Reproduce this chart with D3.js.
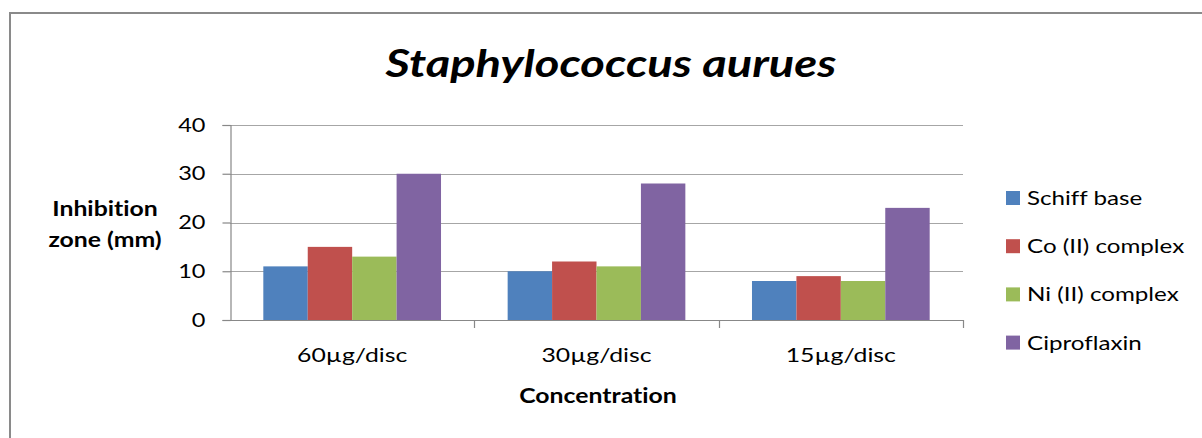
<!DOCTYPE html>
<html>
<head>
<meta charset="utf-8">
<script src="https://cdn.jsdelivr.net/npm/d3@7"></script>
<style>
  html, body { margin: 0; padding: 0; background: #fff; }
  svg { display: block; }
  text { font-family: Lato, "Open Sans", sans-serif; fill: #000; font-variant-ligatures: none; font-feature-settings: "liga" 0, "clig" 0; }
</style>
</head>
<body>
<svg id="chart" width="1202" height="438"></svg>
<script>
const categories = ["60µg/disc", "30µg/disc", "15µg/disc"];
const seriesNames = ["Schiff base", "Co (II) complex", "Ni (II) complex", "Ciproflaxin"];
const seriesColors = ["#4F81BD", "#C0504D", "#9BBB59", "#8064A2"];
const schiffBase = [11, 10, 8];
const coComplex = [15, 12, 9];
const niComplex = [13, 11, 8];
const ciproflaxin = [30, 28, 23];
const yTicks = [0, 10, 20, 30, 40];
const titleText = "Staphylococcus aurues";
const yTitleLines = ["Inhibition", "zone (mm)"];
const xTitleText = "Concentration";

const seriesValues = [schiffBase, coComplex, niComplex, ciproflaxin];
const SX = 1.24; // horizontal stretch of the text in the reference

const svg = d3.select("#chart");

// outer frame (only top and left edges visible)
svg.append("rect")
  .attr("x", 10).attr("y", 13)
  .attr("width", 1202).attr("height", 438)
  .attr("fill", "none")
  .attr("stroke", "#8a8a8a")
  .attr("stroke-width", 2);

const plotLeft = 230, plotRight = 963, plotTop = 125, plotBottom = 320;

const x0 = d3.scaleBand().domain(categories).range([plotLeft, plotRight]).padding(0);
const x1 = d3.scaleBand().domain(d3.range(seriesNames.length))
  .range([0, x0.bandwidth()]).paddingInner(0).paddingOuter(0.75);
const y = d3.scaleLinear().domain([0, 40]).range([plotBottom, plotTop]);

// gridlines
svg.append("g")
  .selectAll("line")
  .data(yTicks.filter(t => t > 0))
  .join("line")
  .attr("x1", plotLeft).attr("x2", plotRight)
  .attr("y1", d => Math.round(y(d)) + 0.5).attr("y2", d => Math.round(y(d)) + 0.5)
  .attr("stroke", "#a6a6a6").attr("stroke-width", 1.2);

// bars
const gCat = svg.append("g").selectAll("g")
  .data(categories)
  .join("g")
  .attr("transform", d => `translate(${x0(d)},0)`);

gCat.selectAll("rect")
  .data((c, ci) => seriesValues.map((vals, si) => ({ si, v: vals[ci] })))
  .join("rect")
  .attr("x", d => x1(d.si))
  .attr("width", x1.bandwidth())
  .attr("y", d => y(d.v))
  .attr("height", d => y(0) - y(d.v))
  .attr("fill", d => seriesColors[d.si]);

// y axis
const yAxis = d3.axisLeft(y).tickValues(yTicks).tickSize(8).tickPadding(0);
const gy = svg.append("g").attr("transform", `translate(${plotLeft + 0.5},0)`).call(yAxis);
gy.select(".domain").attr("stroke", "#888").attr("stroke-width", 1.2);
gy.selectAll(".tick line").attr("stroke", "#888").attr("stroke-width", 1.2);
gy.selectAll(".tick text")
  .attr("font-size", 19).attr("fill", "#000")
  .attr("x", -25 / SX)
  .attr("transform", `scale(${SX},1)`)
  .style("font-family", "Lato, sans-serif");

// x axis
const xAxis = d3.axisBottom(x0).tickSize(0).tickPadding(27);
const gx = svg.append("g").attr("transform", `translate(0,${plotBottom + 0.5})`).call(xAxis);
gx.select(".domain").attr("d", `M${plotLeft},0H${plotRight}`).attr("stroke", "#888").attr("stroke-width", 1.2);
gx.selectAll(".tick text")
  .attr("font-size", 20).attr("fill", "#000")
  .attr("transform", `scale(${SX},1)`)
  .style("font-family", "Lato, sans-serif");
// category boundary tick marks
svg.append("g").selectAll("line")
  .data(categories.map(c => x0(c) + x0.bandwidth()))
  .join("line")
  .attr("x1", d => Math.round(d) + 0.5).attr("x2", d => Math.round(d) + 0.5)
  .attr("y1", plotBottom).attr("y2", plotBottom + 8)
  .attr("stroke", "#888").attr("stroke-width", 1.2);

// title
svg.append("text")
  .attr("transform", `translate(611,77) scale(${SX},1)`)
  .attr("text-anchor", "middle")
  .attr("font-size", 38).attr("font-weight", "bold").attr("font-style", "italic")
  .text(titleText);

// y title
yTitleLines.forEach((line, i) => {
  svg.append("text")
    .attr("transform", `translate(105,${216 + i * 31}) scale(${SX},1)`)
    .attr("text-anchor", "middle")
    .attr("font-size", 20).attr("font-weight", "bold")
    .text(line);
});

// x title
svg.append("text")
  .attr("transform", `translate(598,403) scale(${SX},1)`)
  .attr("text-anchor", "middle")
  .attr("font-size", 20).attr("font-weight", "bold")
  .text(xTitleText);

// legend
const legend = svg.append("g").selectAll("g")
  .data(seriesNames)
  .join("g")
  .attr("transform", (d, i) => `translate(1006,${198 + i * 48.2})`);
legend.append("rect")
  .attr("x", 0).attr("y", -7).attr("width", 14).attr("height", 14)
  .attr("fill", (d, i) => seriesColors[i]);
legend.append("text")
  .attr("transform", `translate(21,7) scale(${SX},1)`)
  .attr("font-size", 19.5)
  .text(d => d);
</script>
</body>
</html>
